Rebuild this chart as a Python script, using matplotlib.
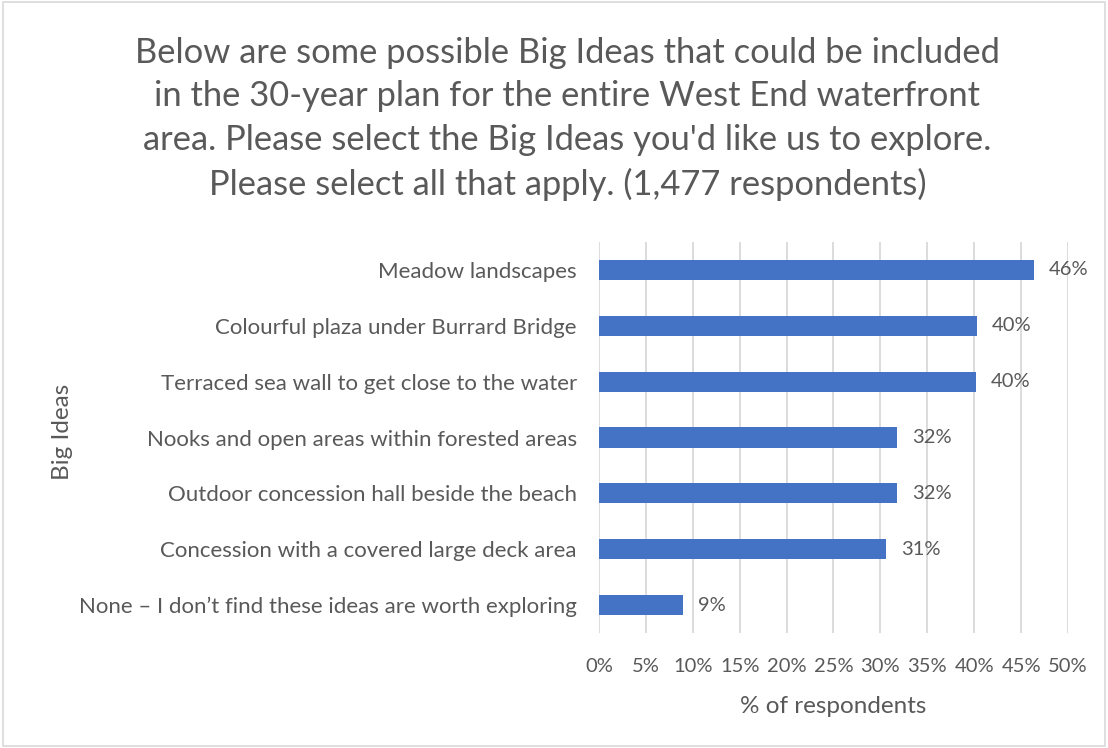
import matplotlib.pyplot as plt
from matplotlib.patches import Rectangle

# survey results, top to bottom as displayed
ideas = [
    "Meadow landscapes",
    "Colourful plaza under Burrard Bridge",
    "Terraced sea wall to get close to the water",
    "Nooks and open areas within forested areas",
    "Outdoor concession hall beside the beach",
    "Concession with a covered large deck area",
    "None \u2013 I don\u2019t find these ideas are worth exploring",
]
share = [46.4, 40.3, 40.2, 31.8, 31.8, 30.6, 9.0]
xticks = [0, 5, 10, 15, 20, 25, 30, 35, 40, 45, 50]

TXT = "#595959"
BAR = "#4472C4"
GRID = "#D9D9D9"

plt.rcParams["font.family"] = ["Lato", "DejaVu Sans"]

fig = plt.figure(figsize=(11.08, 7.48), dpi=100)
fig.patches.append(Rectangle((0.003, 0.003), 0.994, 0.994, transform=fig.transFigure,
                             fill=False, edgecolor="#D9D9D9", lw=1.2))

ax = fig.add_axes([0.5406, 0.1537, 0.4233, 0.5228])
ypos = list(range(len(ideas)))[::-1]
ax.barh(ypos, share, height=0.36, color=BAR, zorder=3)
for y, v in zip(ypos, share):
    ax.text(v + 1.6, y, f"{v:.0f}%", va="center", ha="left", fontsize=14.5, color=TXT)

ax.set_xlim(0, 50)
ax.set_ylim(-0.5, len(ideas) - 0.5)
ax.set_xticks(xticks)
ax.set_xticklabels([f"{t}%" for t in xticks])
ax.set_yticks(ypos)
ax.set_yticklabels(ideas)
ax.tick_params(axis="both", length=0, labelcolor=TXT)
ax.tick_params(axis="x", pad=18, labelsize=14.5)
ax.tick_params(axis="y", pad=16, labelsize=16)
ax.grid(axis="x", color=GRID, lw=1.3, zorder=0)
for s in ax.spines.values():
    s.set_visible(False)

ax.set_xlabel("% of respondents", fontsize=17.5, color=TXT, labelpad=15)
fig.text(0.056, 0.4225, "Big Ideas", rotation=90, ha="center", va="center",
         fontsize=17.5, color=TXT)

fig.text(0.512, 0.841,
         "Below are some possible Big Ideas that could be included\n"
         "in the 30-year plan for the entire West End waterfront\n"
         "area. Please select the Big Ideas you'd like us to explore.\n"
         "Please select all that apply. (1,477 respondents)",
         ha="center", va="center", fontsize=24.8, color=TXT, linespacing=1.45)

fig.savefig("out.png", dpi=100, facecolor="white")
